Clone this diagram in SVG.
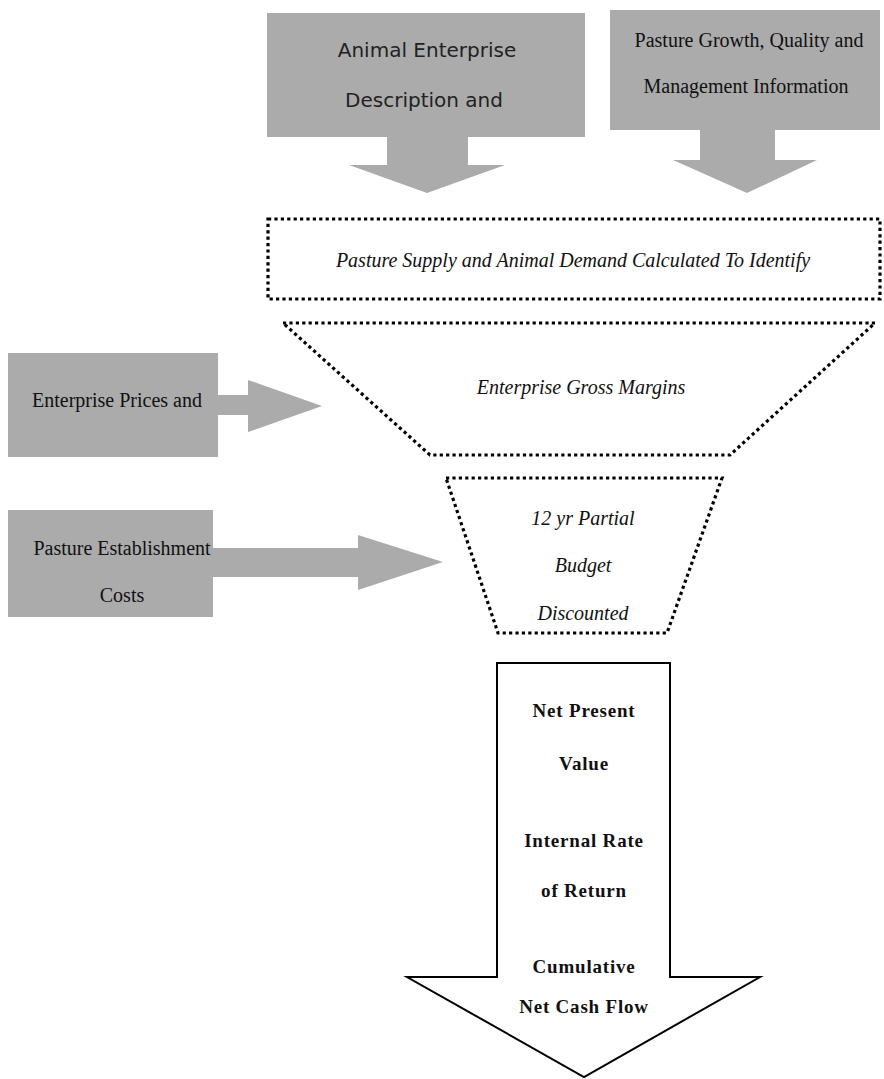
<svg xmlns="http://www.w3.org/2000/svg" width="884" height="1079" viewBox="0 0 884 1079">
<style>
.grey{fill:#ababab;stroke:none}
.dot{fill:#fff;stroke:#000;stroke-width:3.2;stroke-dasharray:3.2 3.2}
.serif{font-family:"Liberation Serif","Times New Roman",serif;font-size:20px;fill:#111;text-anchor:middle}
.it{font-style:italic}
.sans{font-family:"DejaVu Sans",Verdana,sans-serif;font-size:20px;fill:#222;text-anchor:middle}
.bold{font-weight:bold;font-size:19px;letter-spacing:0.8px}
.block{fill:#fff;stroke:#000;stroke-width:2}
</style>
<rect width="884" height="1079" fill="#fff"/>
<g id="connectors">
  <polygon class="grey" points="387,136 468,136 468,165 505,165 427,193 349,165 387,165"/>
  <polygon class="grey" points="700,129 775,129 775,160 817,160 747,193 673,160 700,160"/>
  <polygon class="grey" points="217,395 248,395 248,380 322,406 248,432 248,415 217,415"/>
  <polygon class="grey" points="212,548 358,548 358,535 443,562 358,590 358,577 212,577"/>
</g>
<g id="animal-enterprise">
  <rect class="grey" x="267" y="13" width="318" height="124"/>
  <text class="sans" x="427" y="57">Animal Enterprise</text>
  <text class="sans" x="424" y="107">Description and</text>
</g>
<g id="pasture-growth">
  <rect class="grey" x="610" y="10" width="270" height="120"/>
  <text class="serif" x="749" y="47">Pasture Growth, Quality and</text>
  <text class="serif" x="746" y="93">Management Information</text>
</g>
<g id="supply-demand">
  <rect class="dot" x="268" y="219" width="612" height="80"/>
  <text class="serif it" x="573" y="267">Pasture Supply and Animal Demand Calculated To Identify</text>
</g>
<g id="enterprise-prices">
  <rect class="grey" x="8" y="353" width="210" height="104"/>
  <text class="serif" x="117" y="407">Enterprise Prices and</text>
</g>
<g id="gross-margins">
  <polygon class="dot" points="283,323 875,323 730,455 430,455"/>
  <text class="serif it" x="581" y="394">Enterprise Gross Margins</text>
</g>
<g id="establishment-costs">
  <rect class="grey" x="8" y="510" width="205" height="107"/>
  <text class="serif" x="122" y="555">Pasture Establishment</text>
  <text class="serif" x="122" y="602">Costs</text>
</g>
<g id="partial-budget">
  <polygon class="dot" points="446,478 722,478 667,633 498,633"/>
  <text class="serif it" x="583" y="525">12 yr Partial</text>
  <text class="serif it" x="583" y="572">Budget</text>
  <text class="serif it" x="583" y="620">Discounted</text>
</g>
<g id="results">
  <polygon class="block" points="497,663 670,663 670,977 760,977 584,1077 407,977 497,977"/>
  <text class="serif bold" x="584" y="717">Net Present</text>
  <text class="serif bold" x="584" y="770">Value</text>
  <text class="serif bold" x="584" y="847">Internal Rate</text>
  <text class="serif bold" x="584" y="897">of Return</text>
  <text class="serif bold" x="584" y="973">Cumulative</text>
  <text class="serif bold" x="584" y="1013">Net Cash Flow</text>
</g>
</svg>
